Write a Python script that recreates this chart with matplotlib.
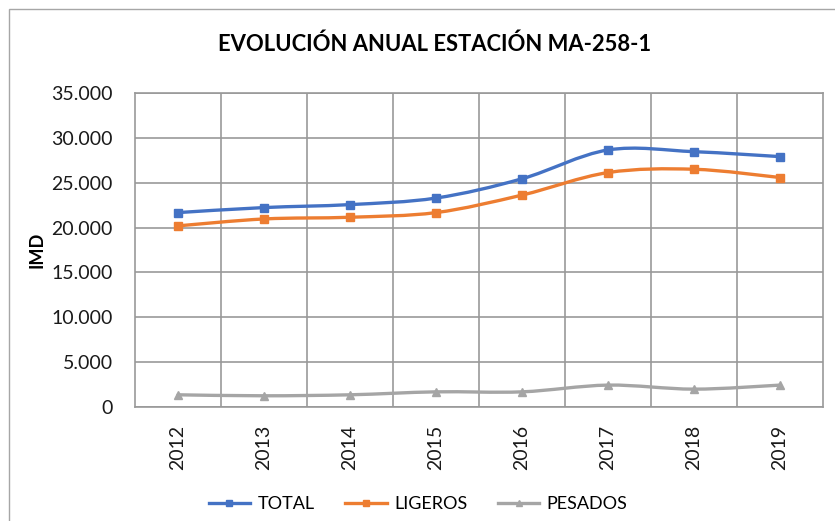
import matplotlib
matplotlib.use("Agg")
import matplotlib.pyplot as plt
import numpy as np
from matplotlib.path import Path
from matplotlib.patches import PathPatch, Rectangle
from matplotlib.lines import Line2D
from matplotlib.ticker import FuncFormatter, MultipleLocator, FixedLocator

plt.rcParams["font.family"] = ["Lato", "DejaVu Sans"]

YEARS = ["2012", "2013", "2014", "2015", "2016", "2017", "2018", "2019"]
TOTAL = [21670, 22230, 22560, 23290, 25440, 28650, 28460, 27910]
LIGEROS = [20190, 20960, 21150, 21670, 23620, 26130, 26500, 25580]
PESADOS = [1360, 1250, 1360, 1690, 1690, 2440, 1990, 2440]

SERIES = [
    ("TOTAL", TOTAL, "#4472C4", "s"),
    ("LIGEROS", LIGEROS, "#ED7D31", "s"),
    ("PESADOS", PESADOS, "#A5A5A5", "^"),
]


def smooth_path(x, y):
    """Curva suavizada tipo Excel (Catmull-Rom -> Bezier cúbica)."""
    pts = np.column_stack([x, y]).astype(float)
    n = len(pts)
    verts = [pts[0]]
    codes = [Path.MOVETO]
    for i in range(n - 1):
        p0 = pts[max(i - 1, 0)]
        p1 = pts[i]
        p2 = pts[i + 1]
        p3 = pts[min(i + 2, n - 1)]
        c1 = p1 + (p2 - p0) / 6.0
        c2 = p2 - (p3 - p1) / 6.0
        verts += [c1, c2, p2]
        codes += [Path.CURVE4] * 3
    return Path(verts, codes)


fig = plt.figure(figsize=(8.35, 5.21), dpi=100)
ax = fig.add_axes([135 / 835, 1 - 407 / 521, 688 / 835, 314 / 521])

# marco del gráfico
fig.patches.append(Rectangle((9 / 835, -0.05), 1.2, 1 - 9 / 521 + 0.05,
                             transform=fig.transFigure, fill=False,
                             edgecolor="#A6A6A6", linewidth=1.0))

x = np.arange(len(YEARS))
handles = []
for name, vals, color, marker in SERIES:
    ax.add_patch(PathPatch(smooth_path(x, vals), facecolor="none",
                           edgecolor=color, linewidth=2.4, zorder=3,
                           capstyle="round"))
    ax.plot(x, vals, linestyle="none", marker=marker, markersize=6,
            color=color, zorder=4)
    handles.append(Line2D([], [], color=color, linewidth=2.4,
                          marker=marker, markersize=5, label=name))

ax.set_xlim(-0.5, len(YEARS) - 0.5)
ax.set_ylim(0, 35000)
ax.yaxis.set_major_locator(MultipleLocator(5000))
ax.yaxis.set_major_formatter(FuncFormatter(
    lambda v, p: f"{int(v):,}".replace(",", ".")))
ax.set_xticks(x)
ax.set_xticklabels(YEARS, rotation=90)
ax.xaxis.set_minor_locator(FixedLocator(np.arange(0.5, len(YEARS) - 1, 1)))

ax.grid(True, which="major", axis="y", color="#999999", linewidth=1.2)
ax.grid(True, which="minor", axis="x", color="#999999", linewidth=1.2)
ax.set_axisbelow(True)
for s in ax.spines.values():
    s.set_color("#999999")
    s.set_linewidth(1.2)

ax.tick_params(axis="y", length=0, pad=16, labelsize=14, labelcolor="#1a1a1a")
ax.tick_params(axis="x", which="both", length=0, pad=13, labelsize=14,
               labelcolor="#1a1a1a")

ax.set_ylabel("IMD", fontsize=13, fontweight="bold")
ax.yaxis.set_label_coords(-90 / 688, 0.5)

fig.text(435 / 835, 1 - 44 / 521, "EVOLUCIÓN ANUAL ESTACIÓN MA-258-1",
         ha="center", va="center", fontsize=15.8, fontweight="bold")

fig.legend(handles=handles, loc="center", bbox_to_anchor=(418 / 835, 1 - 504 / 521),
           ncol=3, frameon=False, fontsize=13, handlelength=2.3,
           columnspacing=1.7, handletextpad=0.4)

fig.savefig("out.png", dpi=100)
